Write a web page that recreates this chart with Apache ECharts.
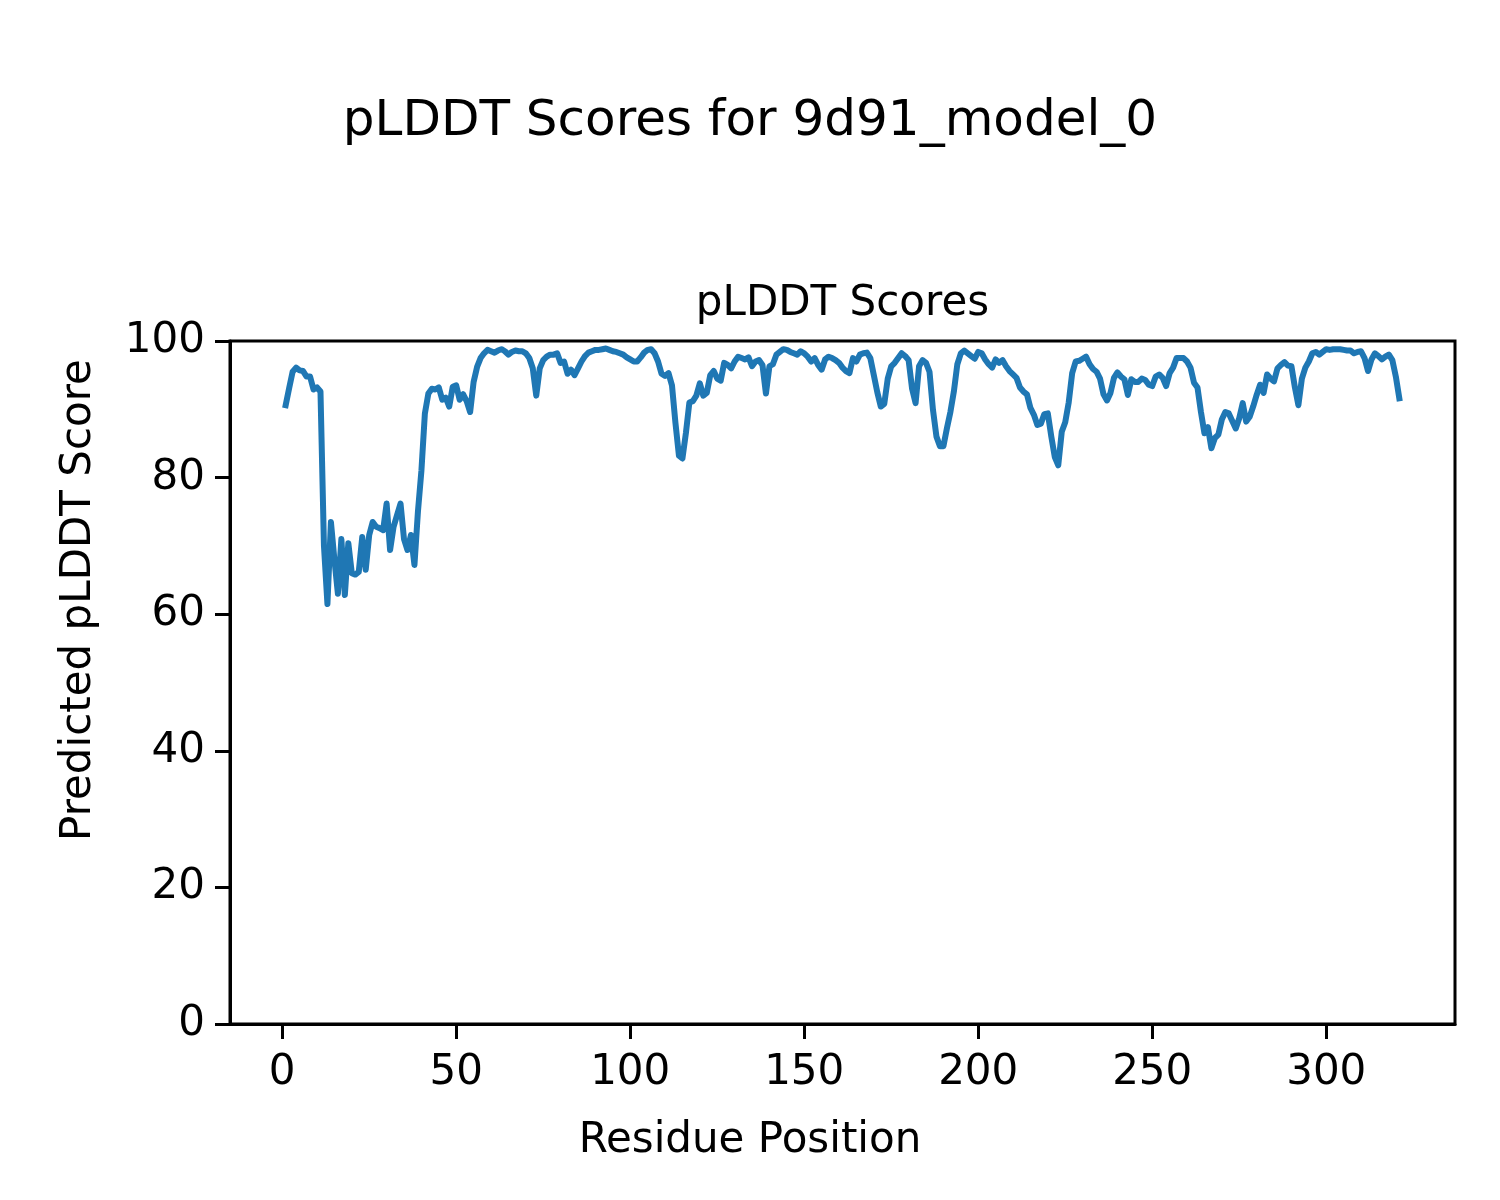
<!DOCTYPE html>
<html>
<head>
<meta charset="utf-8">
<script src="https://cdn.jsdelivr.net/npm/echarts@6/dist/echarts.min.js"></script>
<style>html,body{margin:0;padding:0;background:#fff;}#c{width:1500px;height:1200px;}</style>
</head>
<body>
<div id="c"></div>
<script>
const suptitle = "pLDDT Scores for 9d91_model_0";
const axesTitle = "pLDDT Scores";
const xLabel = "Residue Position";
const yLabel = "Predicted pLDDT Score";
const xTicks = [0, 50, 100, 150, 200, 250, 300];
const yTicks = [0, 20, 40, 60, 80, 100];
const plddt = [
  90.6, 93.1, 95.5, 96.1, 95.7, 95.6, 94.8, 94.8, 92.9, 93.2, 92.6,
  70.0, 61.5, 73.5, 68.0, 63.0, 71.0, 62.8, 70.4, 66.0, 65.8,
  66.2, 71.3, 66.5, 71.6, 73.5, 72.8, 72.6, 72.3, 76.2, 69.4,
  72.8, 74.5, 76.2, 71.0, 69.4, 71.6, 67.2, 75.0, 81.0, 89.4,
  92.3, 93.0, 92.9, 93.2, 91.4, 91.7, 90.4, 93.3, 93.5, 91.4,
  92.2, 91.2, 89.6, 94.0, 96.2, 97.5, 98.2, 98.7, 98.5, 98.3,
  98.6, 98.8, 98.5, 98.0, 98.4, 98.6, 98.5, 98.5, 98.2, 97.5,
  96.0, 92.0, 96.0, 97.2, 97.7, 98.0, 98.0, 98.2, 96.8, 97.0,
  95.2, 95.8, 95.0, 96.0, 97.0, 97.8, 98.3, 98.5, 98.7, 98.7,
  98.8, 98.9, 98.7, 98.5, 98.4, 98.2, 98.0, 97.6, 97.3, 97.0,
  97.0, 97.6, 98.3, 98.7, 98.8, 98.2, 97.0, 95.2, 94.9, 95.3,
  93.5, 88.0, 83.2, 82.8, 86.5, 91.0, 91.2, 92.0, 93.8, 92.0,
  92.4, 95.0, 95.6, 94.5, 94.2, 96.8, 96.5, 96.0, 97.0, 97.7,
  97.5, 97.3, 97.6, 96.3, 97.0, 97.2, 96.5, 92.3, 96.3, 96.6,
  98.0, 98.4, 98.8, 98.7, 98.4, 98.2, 98.0, 98.5, 98.2, 97.7,
  97.0, 97.5, 96.5, 95.8, 97.3, 97.7, 97.5, 97.2, 96.8, 96.1,
  95.6, 95.3, 97.5, 97.0, 98.0, 98.2, 98.3, 97.5, 95.0, 92.5,
  90.4, 90.8, 94.5, 96.3, 96.8, 97.5, 98.2, 97.8, 97.2, 93.0,
  90.9, 96.3, 97.2, 96.8, 95.5, 89.9, 86.0, 84.6, 84.6, 87.2,
  89.6, 92.6, 96.6, 98.2, 98.6, 98.2, 97.8, 97.4, 98.4, 98.2,
  97.3, 96.6, 96.1, 97.3, 96.8, 97.2, 96.3, 95.6, 95.1, 94.6,
  93.2, 92.6, 92.2, 90.2, 89.2, 87.7, 87.9, 89.3, 89.4, 86.0,
  83.0, 81.8, 86.7, 88.1, 91.0, 95.3, 97.0, 97.1, 97.4, 97.7,
  96.6, 95.9, 95.5, 94.5, 92.2, 91.3, 92.4, 94.6, 95.4, 94.8,
  94.4, 92.1, 94.4, 94.0, 94.0, 94.5, 94.3, 93.6, 93.4, 94.8,
  95.1, 94.6, 93.4, 95.3, 96.1, 97.5, 97.5, 97.5, 97.0, 96.1,
  93.9, 93.2, 89.6, 86.5, 87.4, 84.3, 85.8, 86.3, 88.5, 89.6,
  89.4, 88.3, 87.2, 88.7, 90.9, 88.2, 88.9, 90.4, 92.1, 93.6,
  92.4, 95.1, 94.5, 94.1, 96.0, 96.5, 96.9, 96.4, 96.3, 93.2,
  90.6, 94.5, 96.1, 97.0, 98.2, 98.4, 98.0, 98.4, 98.8, 98.7,
  98.8, 98.8, 98.8, 98.7, 98.6, 98.6, 98.2, 98.4, 98.5, 97.5,
  95.6, 97.3, 98.2, 97.8, 97.3, 97.7, 98.0, 97.2, 94.8, 91.6
];
const residues = plddt.map((v, i) => i + 1);

const FONT = "DejaVu Sans";
const chart = echarts.init(document.getElementById('c'), null, {renderer: 'canvas'});
const L = 230, R = 45, T = 341, B = 176;
chart.setOption({
  animation: false,
  backgroundColor: '#fff',
  grid: {left: L, right: R, top: T, bottom: B, show: true, borderColor: '#000', borderWidth: 3, backgroundColor: 'transparent'},
  xAxis: {
    type: 'value', min: -15, max: 337,
    splitLine: {show: false},
    axisLine: {show: true, onZero: false, lineStyle: {color: '#000', width: 3}},
    axisTick: {show: true, inside: false, length: 15, lineStyle: {color: '#000', width: 3}, customValues: xTicks},
    axisLabel: {show: true, margin: 28, color: '#000', fontFamily: FONT, fontSize: 42, customValues: xTicks}
  },
  yAxis: {
    type: 'value', min: 0, max: 100, interval: 20,
    splitLine: {show: false},
    axisLine: {show: true, onZero: false, lineStyle: {color: '#000', width: 3}},
    axisTick: {show: true, inside: false, length: 15, lineStyle: {color: '#000', width: 3}},
    axisLabel: {show: true, margin: 25, color: '#000', fontFamily: FONT, fontSize: 42,
      formatter: v => (yTicks.indexOf(v) >= 0 ? String(v) : '')}
  },
  series: [{
    type: 'line',
    data: residues.map((x, i) => [x, plddt[i]]),
    showSymbol: false,
    symbol: 'none',
    lineStyle: {color: '#1f77b4', width: 6, cap: 'square', join: 'round'},
    clip: false
  }],
  graphic: [
    {type: 'text', x: 750, y: 122, style: {text: suptitle, fill: '#000', font: '50px "DejaVu Sans"', textAlign: 'center', textVerticalAlign: 'middle'}},
    {type: 'text', x: (L + 1500 - R) / 2, y: 304, style: {text: axesTitle, fill: '#000', font: '42px "DejaVu Sans"', textAlign: 'center', textVerticalAlign: 'middle'}},
    {type: 'text', x: 750, y: 1141, style: {text: xLabel, fill: '#000', font: '42px "DejaVu Sans"', textAlign: 'center', textVerticalAlign: 'middle'}},
    {type: 'text', x: 79, y: 600, rotation: Math.PI / 2, style: {text: yLabel, fill: '#000', font: '42px "DejaVu Sans"', textAlign: 'center', textVerticalAlign: 'middle'}}
  ]
});
</script>
</body>
</html>
